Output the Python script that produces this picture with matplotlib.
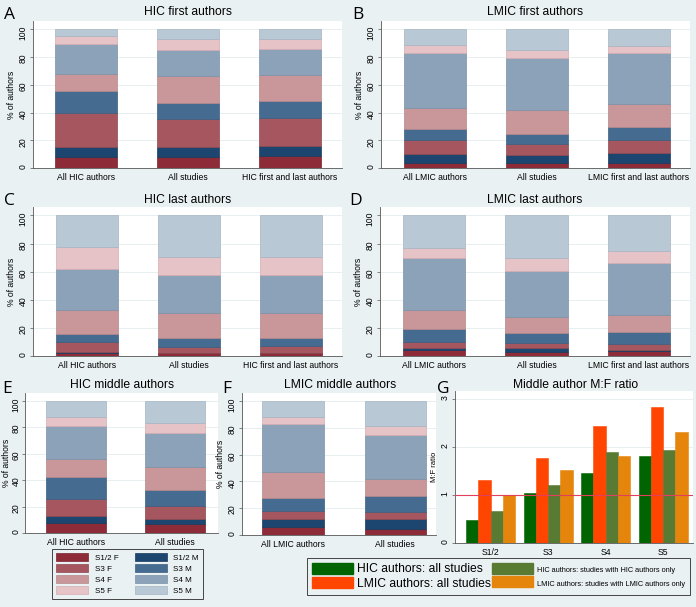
import numpy as np
import matplotlib
matplotlib.use("Agg")
import matplotlib.pyplot as plt
from matplotlib.patches import Patch

plt.rcParams['font.family'] = ['Liberation Sans', 'DejaVu Sans']

# segment order (bottom -> top)
seg_names = ['S1/2 F', 'S1/2 M', 'S3 F', 'S3 M', 'S4 F', 'S4 M', 'S5 F', 'S5 M']

# % of authors per segment, one row per segment, one column per bar
hic_first_labels = ['All HIC authors', 'All studies', 'HIC first and last authors']
hic_first = [[8.0, 8.0, 8.7],
             [7.5, 7.2, 7.4],
             [24.5, 19.8, 19.9],
             [15.5, 12.0, 12.0],
             [12.0, 19.5, 19.0],
             [22.0, 18.5, 19.0],
             [6.0, 7.8, 6.8],
             [4.5, 7.2, 7.2]]

lmic_first_labels = ['All LMIC authors', 'All studies', 'LMIC first and last authors']
lmic_first = [[3.4, 3.4, 3.4],
              [6.6, 5.7, 7.6],
              [10.0, 7.9, 9.4],
              [8.3, 7.7, 8.9],
              [14.7, 16.8, 17.2],
              [39.7, 38.1, 36.7],
              [6.3, 5.8, 5.0],
              [11.0, 14.6, 11.8]]

hic_last_labels = ['All HIC authors', 'All studies', 'HIC first and last authors']
hic_last = [[2.4, 2.1, 1.9],
            [0.3, 0.3, 0.3],
            [7.5, 4.3, 4.9],
            [5.5, 6.4, 6.0],
            [17.2, 17.4, 17.4],
            [29.2, 27.1, 27.1],
            [15.3, 12.6, 12.6],
            [22.6, 29.8, 29.8]]

lmic_last_labels = ['All LMIC authors', 'All studies', 'LMIC first and last authors']
lmic_last = [[4.5, 2.6, 3.3],
             [1.2, 2.9, 1.2],
             [4.5, 4.0, 4.1],
             [8.8, 7.2, 8.8],
             [13.4, 11.3, 12.1],
             [37.4, 32.5, 36.7],
             [7.2, 9.5, 8.6],
             [23.0, 30.0, 25.2]]

hic_mid_labels = ['All HIC authors', 'All studies']
hic_mid = [[7.6, 6.6],
           [5.3, 3.8],
           [12.9, 10.4],
           [16.5, 11.6],
           [13.4, 17.2],
           [25.3, 26.1],
           [6.6, 7.8],
           [12.4, 16.5]]

lmic_mid_labels = ['All LMIC authors', 'All studies']
lmic_mid = [[5.75, 4.75],
            [6.0, 7.0],
            [6.25, 5.75],
            [9.75, 11.25],
            [19.5, 13.25],
            [35.75, 32.75],
            [5.25, 6.5],
            [11.75, 18.75]]

# M:F ratio of middle authors
ratio_cats = ['S1/2', 'S3', 'S4', 'S5']
hic_all = [0.47, 1.04, 1.45, 1.82]
lmic_all = [1.31, 1.77, 2.45, 2.83]
hic_only = [0.67, 1.22, 1.89, 1.93]
lmic_only = [1.00, 1.52, 1.82, 2.31]
ratio_names = ['HIC authors: all studies', 'LMIC authors: all studies',
               'HIC authors: studies with HIC authors only',
               'LMIC authors: studies with LMIC authors only']

bg = '#eaf1f3'
seg_colors = ['#8e2b38', '#1c4670', '#a5565e', '#456c90',
              '#c99699', '#8ba2b8', '#e6c3c7', '#b9c8d5']
seg_edges = ['#7a2230', '#153a5e', '#8f4850', '#395d7e',
             '#b5878a', '#7a91a7', '#d4adb1', '#a5b5c3']
ratio_colors = ['#006400', '#ff4500', '#587a33', '#e5850b']

W, H = 696, 607
fig = plt.figure(figsize=(W / 100, H / 100), dpi=100, facecolor=bg)


def box(x0, y0, x1, y1):
    return [x0 / W, 1 - y1 / H, (x1 - x0) / W, (y1 - y0) / H]


def label(x, y, s, size, **kw):
    fig.text(x / W, 1 - y / H, s, fontsize=size, ha='center', va='center', **kw)


def style(ax, tpad=1.5):
    ax.set_facecolor('white')
    for s in ['top', 'right']:
        ax.spines[s].set_visible(False)
    for s in ['left', 'bottom']:
        ax.spines[s].set_color('#555555')
        ax.spines[s].set_linewidth(0.6)
    ax.tick_params(axis='y', labelrotation=90, labelsize=6.2, length=2.5,
                   width=0.5, pad=tpad, color='#555555')
    ax.tick_params(axis='x', length=0, labelsize=6.2, pad=3.5)
    ax.grid(axis='y', color='#e4ecef', lw=0.6, zorder=0)
    ax.set_axisbelow(True)


def stacked(rect, segs, labels, xlim, width, tpad=1.5, lpad=2):
    ax = fig.add_axes(box(*rect))
    x = np.arange(len(labels))
    bottom = np.zeros(len(labels))
    for row, fc, ec in zip(segs, seg_colors, seg_edges):
        ax.bar(x, row, width, bottom=bottom, color=fc, edgecolor=ec, lw=0.5, zorder=2)
        bottom += np.array(row)
    ax.set_xlim(*xlim)
    ax.set_ylim(0, 106)
    ax.set_yticks([0, 20, 40, 60, 80, 100])
    ax.set_xticks(x)
    ax.set_xticklabels(labels)
    style(ax, tpad)
    ax.set_ylabel('% of authors', fontsize=6.2, labelpad=lpad)
    return ax


stacked((33, 21, 342, 168), hic_first, hic_first_labels, (-0.52, 2.51), 0.61)
stacked((381, 21, 690, 168), lmic_first, lmic_first_labels, (-0.53, 2.50), 0.61)
stacked((33, 207, 342, 356), hic_last, hic_last_labels, (-0.53, 2.50), 0.61)
stacked((380, 207, 690, 356), lmic_last, lmic_last_labels, (-0.53, 2.50), 0.61)
stacked((25, 393, 218, 533), hic_mid, hic_mid_labels, (-0.51, 1.43), 0.60, tpad=0.8, lpad=0.3)
stacked((242, 393, 436, 535), lmic_mid, lmic_mid_labels, (-0.50, 1.40), 0.60)

# panel G: grouped bars of M:F ratio
axg = fig.add_axes(box(455, 391, 693, 543))
xg = np.arange(len(ratio_cats))
bw = 0.214
for i, (vals, c) in enumerate(zip([hic_all, lmic_all, hic_only, lmic_only], ratio_colors)):
    axg.bar(xg + (i - 1.5) * bw, vals, bw, color=c, edgecolor=c, lw=0.4, zorder=2)
axg.axhline(1, color='#e0405c', lw=0.8, zorder=3)
axg.set_xlim(-0.62, 3.52)
axg.set_ylim(0, 3.17)
axg.set_yticks([0, 1, 2, 3])
axg.set_xticks(xg)
axg.set_xticklabels(ratio_cats)
style(axg)
axg.set_ylabel('M:F ratio', fontsize=5.5, labelpad=2)

# titles and panel letters
label(188, 12, 'HIC first authors', 8.7)
label(535, 12, 'LMIC first authors', 8.7)
label(188, 200, 'HIC last authors', 8.7)
label(535, 200, 'LMIC last authors', 8.7)
label(122, 385, 'HIC middle authors', 8.7)
label(340, 385, 'LMIC middle authors', 8.7)
label(576, 385, 'Middle author M:F ratio', 8.7)
for x, y, s in [(10, 15, 'A'), (358, 15, 'B'), (9, 201, 'C'), (356, 201, 'D'),
                (7, 389, 'E'), (227, 389, 'F'), (443, 389, 'G')]:
    label(x, y, s, 12.5, family=['Open Sans', 'DejaVu Sans'])

# legends
seg_handles = [Patch(facecolor=c, edgecolor=e, lw=0.5) for c, e in zip(seg_colors, seg_edges)]
order = [0, 2, 4, 6, 1, 3, 5, 7]
leg1 = fig.legend([seg_handles[i] for i in order], [seg_names[i] for i in order],
                  ncol=2, loc='upper left', bbox_to_anchor=(52 / W, 1 - 549 / H),
                  borderaxespad=0, fontsize=5.8, handlelength=4.0, handleheight=1.1,
                  handletextpad=0.8, labelspacing=0.3, columnspacing=2.0, borderpad=0.5,
                  frameon=True, fancybox=False, facecolor=bg, edgecolor='#444444',
                  framealpha=1)
leg1.get_frame().set_linewidth(0.7)

ratio_handles = [Patch(facecolor=c, edgecolor=c) for c in ratio_colors]
leg2 = fig.legend(ratio_handles, ratio_names, ncol=2, loc='upper left',
                  bbox_to_anchor=(307 / W, 1 - 558 / H), borderaxespad=0,
                  fontsize=8.7, handlelength=3.4, handleheight=1.0, handletextpad=0.3,
                  labelspacing=0.15, columnspacing=0.15, borderpad=0.4,
                  frameon=True, fancybox=False, facecolor=bg, edgecolor='#444444',
                  framealpha=1)
leg2.get_frame().set_linewidth(0.7)
for t in leg2.get_texts()[2:]:
    t.set_fontsize(5.3)

fig.savefig('out.png', dpi=100, facecolor=bg)
